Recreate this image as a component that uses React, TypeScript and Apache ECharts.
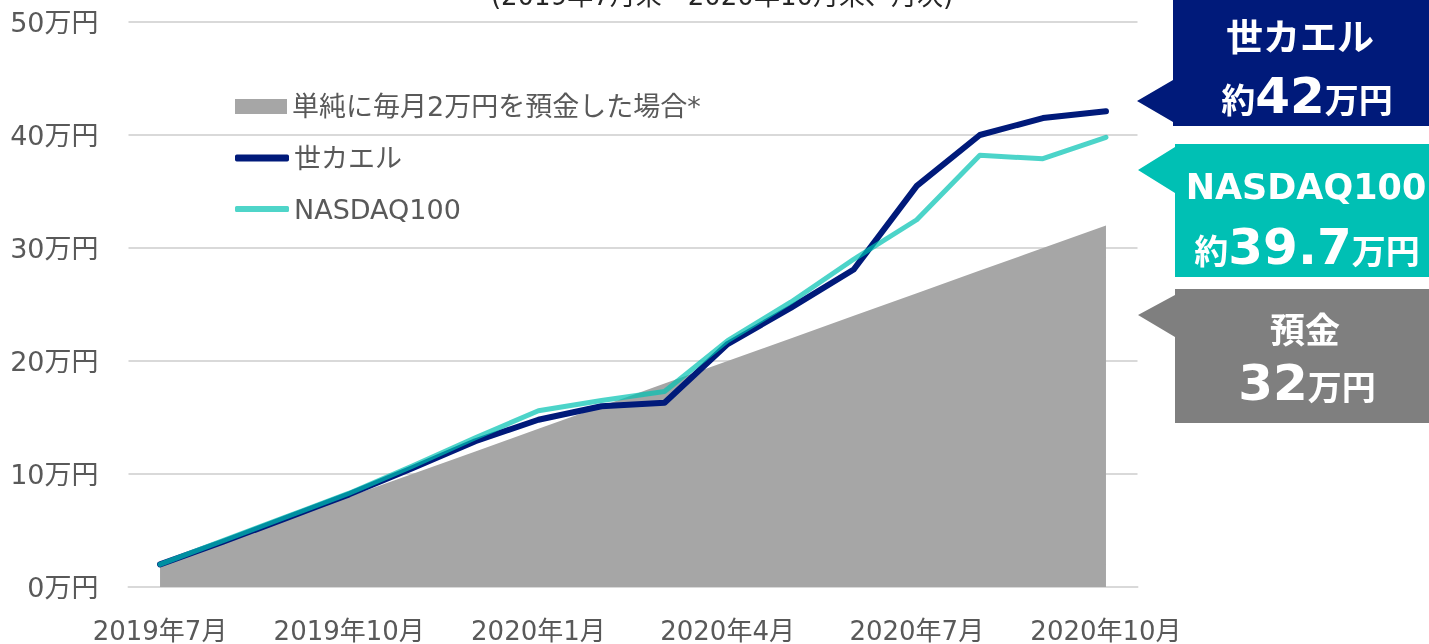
import React, { useEffect, useRef } from "react";
import * as echarts from "echarts";

const months = [
  "2019年7月", "2019年8月", "2019年9月", "2019年10月", "2019年11月", "2019年12月",
  "2020年1月", "2020年2月", "2020年3月", "2020年4月", "2020年5月", "2020年6月",
  "2020年7月", "2020年8月", "2020年9月", "2020年10月",
];
const deposit = [2, 4, 6, 8, 10, 12, 14, 16, 18, 20, 22, 24, 26, 28, 30, 32];
const sekaeru = [2.0, 4.0, 6.1, 8.2, 10.5, 12.9, 14.8, 16.0, 16.3, 21.5, 24.7, 28.1, 35.5, 40.0, 41.5, 42.1];
const nasdaq = [2.0, 4.1, 6.2, 8.3, 10.7, 13.2, 15.6, 16.5, 17.3, 21.8, 25.2, 29.0, 32.5, 38.2, 37.9, 39.8];

const NAME_DEP = "単純に毎月2万円を預金した場合*";
const NAME_SK = "世カエル";
const NAME_NQ = "NASDAQ100";

const FONT = '"DejaVu Sans", "Noto Sans CJK JP", sans-serif';
const TXT = "#595959";

export default function App() {
  const ref = useRef<HTMLDivElement>(null);
  useEffect(() => {
    document.body.style.margin = "0";
    const chart = echarts.init(ref.current!, undefined, { renderer: "svg" });
    const legendText = { fontSize: 27, color: TXT, fontFamily: FONT, lineHeight: 30 };
    const white = "#ffffff";
    const rich = (big: number, small: number) => ({
      s: { fontSize: small, fontWeight: "bold", fontFamily: FONT, fill: white, verticalAlign: "bottom", padding: [0, 0, 3, 0] },
      b: { fontSize: big, fontWeight: "bold", fontFamily: FONT, fill: white, verticalAlign: "bottom" },
    });
    chart.setOption({
      animation: false,
      grid: { left: 128.5, right: 291.5, top: 22, bottom: 57 },
      xAxis: {
        type: "category",
        data: months,
        boundaryGap: true,
        axisLine: { show: true, lineStyle: { color: "#d9d9d9", width: 2 } },
        axisTick: { show: false },
        axisLabel: { interval: 2, fontSize: 26, color: TXT, fontFamily: FONT, margin: 31 },
      },
      yAxis: {
        type: "value",
        min: 0,
        max: 50,
        interval: 10,
        axisLine: { show: false },
        axisTick: { show: false },
        axisLabel: { formatter: "{value}万円", fontSize: 27, color: TXT, fontFamily: FONT, margin: 30 },
        splitLine: { lineStyle: { color: "#d9d9d9", width: 2 } },
      },
      legend: [
        {
          data: [{ name: NAME_DEP, icon: "rect" }],
          left: 235, top: 91.5, padding: 0,
          itemWidth: 52, itemHeight: 15,
          textStyle: legendText,
        },
        {
          data: [{ name: NAME_SK, icon: "roundRect", itemStyle: { color: "#001a7a" } }],
          left: 235, top: 143, padding: 0,
          itemWidth: 54, itemHeight: 7,
          textStyle: legendText,
        },
        {
          data: [{ name: NAME_NQ, icon: "roundRect", itemStyle: { color: "#4fd5c9" } }],
          left: 235, top: 194, padding: 0,
          itemWidth: 54, itemHeight: 6,
          textStyle: legendText,
        },
      ],
      series: [
        {
          name: NAME_DEP,
          type: "line",
          data: deposit,
          symbol: "none",
          color: "#a6a6a6",
          lineStyle: { width: 0 },
          areaStyle: { color: "#a6a6a6", opacity: 1 },
          z: 1,
        },
        {
          name: NAME_SK,
          type: "line",
          data: sekaeru,
          symbol: "none",
          color: "#001a7a",
          lineStyle: { width: 6, color: "#001a7a", cap: "round", join: "round" },
          z: 2,
        },
        {
          name: NAME_NQ,
          type: "line",
          data: nasdaq,
          symbol: "none",
          color: "#00c2b2",
          lineStyle: { width: 5, color: "#00c2b2", opacity: 0.7, cap: "round", join: "round" },
          z: 3,
        },
      ],
      graphic: [
        {
          type: "text",
          x: 722, y: 9,
          style: {
            text: "(2019年7月末～2020年10月末、月次)",
            fontSize: 26, fontFamily: FONT, fill: "#262626",
            align: "center", verticalAlign: "bottom",
          },
        },
        {
          type: "polygon",
          shape: { points: [[1137, 101], [1173, 80], [1173, 0], [1429, 0], [1429, 126], [1173, 126], [1173, 122]] },
          style: { fill: "#001a7a" },
        },
        {
          type: "polygon",
          shape: { points: [[1138, 170], [1175, 147], [1175, 144], [1429, 144], [1429, 277], [1175, 277], [1175, 193]] },
          style: { fill: "#00c0b4" },
        },
        {
          type: "polygon",
          shape: { points: [[1138, 315], [1175, 295], [1175, 289], [1429, 289], [1429, 423], [1175, 423], [1175, 337]] },
          style: { fill: "#7f7f7f" },
        },
        {
          type: "text", x: 1300, y: 38,
          style: { text: "世カエル", fontSize: 37, fontWeight: "bold", fontFamily: FONT, fill: white, align: "center", verticalAlign: "middle" },
        },
        {
          type: "text", x: 1307, y: 121,
          style: { text: "{s|約}{b|42}{s|万円}", align: "center", verticalAlign: "bottom", fill: white, rich: rich(50, 34) },
        },
        {
          type: "text", x: 1306, y: 187,
          style: { text: "NASDAQ100", fontSize: 35, fontWeight: "bold", fontFamily: FONT, fill: white, align: "center", verticalAlign: "middle" },
        },
        {
          type: "text", x: 1307, y: 272,
          style: { text: "{s|約}{b|39.7}{s|万円}", align: "center", verticalAlign: "bottom", fill: white, rich: rich(50, 34) },
        },
        {
          type: "text", x: 1305, y: 331,
          style: { text: "預金", fontSize: 35, fontWeight: "bold", fontFamily: FONT, fill: white, align: "center", verticalAlign: "middle" },
        },
        {
          type: "text", x: 1307, y: 408,
          style: { text: "{b|32}{s|万円}", align: "center", verticalAlign: "bottom", fill: white, rich: rich(50, 34) },
        },
      ],
    });
    return () => chart.dispose();
  }, []);
  return <div ref={ref} style={{ position: "fixed", left: 0, top: 0, width: 1429, height: 644 }} />;
}
